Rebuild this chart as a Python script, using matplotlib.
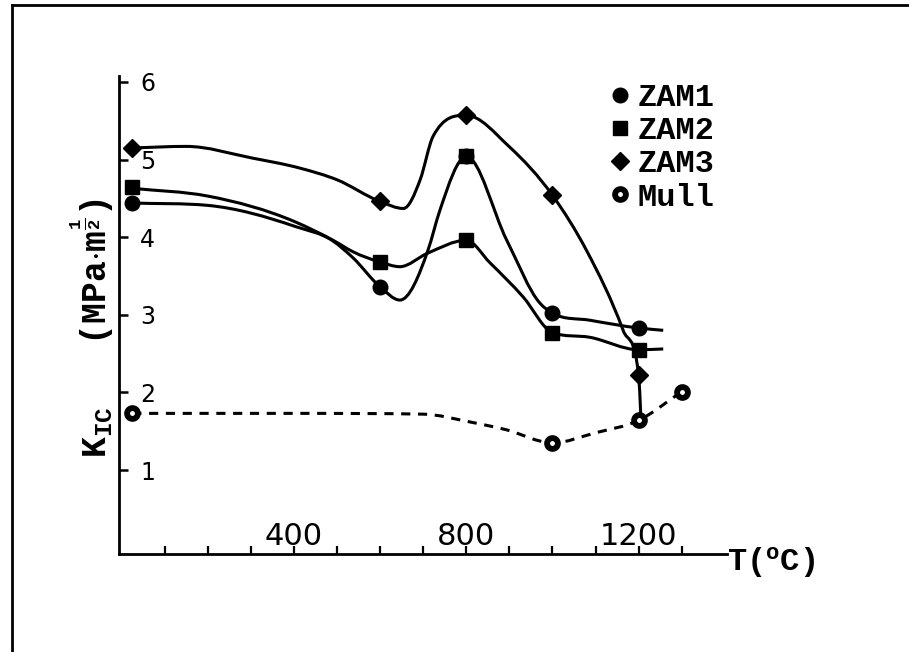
import numpy as np
import matplotlib
matplotlib.use("Agg")
import matplotlib.pyplot as plt
from matplotlib.path import Path
from matplotlib.patches import PathPatch
from matplotlib.lines import Line2D

plt.rcParams['mathtext.fontset'] = 'custom'
plt.rcParams['mathtext.rm'] = 'Liberation Mono:bold'
plt.rcParams['mathtext.it'] = 'Liberation Mono:bold'
plt.rcParams['mathtext.bf'] = 'Liberation Mono:bold'

# ---- measured points (T in °C, KIC in MPa·m^1/2) ----
series_names = ["ZAM1", "ZAM2", "ZAM3", "Mull"]
zam1_T = [25, 600, 800, 1000, 1200]
zam1_K = [4.44, 3.36, 5.04, 3.02, 2.83]
zam2_T = [25, 600, 800, 1000, 1200]
zam2_K = [4.65, 3.68, 5.04, 2.77, 2.55]
zam2b_T = [800]          # second square at 800 °C on lower branch
zam2b_K = [3.96]
zam3_T = [25, 600, 800, 1000, 1200]
zam3_K = [5.15, 4.46, 5.57, 4.54, 2.22]
mull_T = [25, 1000, 1200, 1300]
mull_K = [1.73, 1.35, 1.64, 2.01]

# ---- hand-drawn guide curves ----
zam1_line_T = [25, 200, 402, 491, 538, 600, 646, 711, 739, 800, 894, 971, 1000, 1087, 1200, 1257]
zam1_line_K = [4.44, 4.41, 4.14, 3.95, 3.73, 3.36, 3.19, 3.83, 4.35, 5.04, 3.96, 3.15, 3.02, 2.93, 2.83, 2.80]
zam2_line_T = [25, 200, 402, 491, 538, 600, 646, 709, 800, 855, 932, 1000, 1087, 1200, 1257]
zam2_line_K = [4.63, 4.53, 4.20, 3.96, 3.81, 3.68, 3.62, 3.79, 3.96, 3.67, 3.23, 2.77, 2.71, 2.55, 2.56]
zam3_line_T = [25, 150, 303, 414, 500, 600, 654, 693, 723, 800, 899, 1000, 1079, 1164, 1200, 1205]
zam3_line_K = [5.15, 5.17, 5.02, 4.89, 4.74, 4.46, 4.37, 4.74, 5.30, 5.57, 5.17, 4.54, 3.83, 2.80, 2.22, 1.70]
mull_line_T = [25, 400, 700, 808, 892, 1000, 1100, 1200, 1300]
mull_line_K = [1.73, 1.73, 1.72, 1.62, 1.52, 1.35, 1.48, 1.64, 2.01]

x_ticks = list(range(100, 1400, 100))
x_labels = {400: "400", 800: "800", 1200: "1200"}
y_ticks = [1, 2, 3, 4, 5, 6]


def smooth_path(xs, ys):
    """Smooth Bezier path through the knots (Fritsch-Carlson limited slopes)."""
    xs = np.asarray(xs, float)
    ys = np.asarray(ys, float)
    h = np.diff(xs)
    d = np.diff(ys) / h
    n = len(xs)
    m = np.zeros(n)
    for k in range(1, n - 1):
        if d[k - 1] * d[k] > 0:
            s = (d[k - 1] * h[k] + d[k] * h[k - 1]) / (h[k - 1] + h[k])
            lim = 3 * min(abs(d[k - 1]), abs(d[k]))
            m[k] = np.sign(s) * min(abs(s), lim)
    m[0] = d[0]
    m[-1] = d[-1]
    verts = [(xs[0], ys[0])]
    codes = [Path.MOVETO]
    for k in range(n - 1):
        verts += [(xs[k] + h[k] / 3, ys[k] + m[k] * h[k] / 3),
                  (xs[k + 1] - h[k] / 3, ys[k + 1] - m[k + 1] * h[k] / 3),
                  (xs[k + 1], ys[k + 1])]
        codes += [Path.CURVE4] * 3
    return Path(verts, codes)


W, H = 909, 652
fig = plt.figure(figsize=(W / 100, H / 100), dpi=100)
ax_l, ax_r, ax_b, ax_t = 119, 727, 554, 76
ax = fig.add_axes([ax_l / W, 1 - ax_b / H, (ax_r - ax_l) / W, (ax_b - ax_t) / H])
ax.set_xlim(-5.8, 1405)
ax.set_ylim(-0.082, 6.077)

for s in ["top", "right"]:
    ax.spines[s].set_visible(False)
for s in ["left", "bottom"]:
    ax.spines[s].set_linewidth(2.0)

lw = 2.2
for xs, ys, ls in [(zam1_line_T, zam1_line_K, '-'), (zam2_line_T, zam2_line_K, '-'),
                   (zam3_line_T, zam3_line_K, '-'), (mull_line_T, mull_line_K, (0, (3, 2.5)))]:
    ax.add_patch(PathPatch(smooth_path(xs, ys), facecolor='none', edgecolor='black',
                           lw=lw, linestyle=ls, capstyle='butt', zorder=2))

ax.plot(zam1_T, zam1_K, 'o', color='black', ms=10.5, zorder=4, clip_on=False)
ax.plot(zam2_T, zam2_K, 's', color='black', ms=9.5, zorder=4, clip_on=False)
ax.plot(zam2b_T, zam2b_K, 's', color='black', ms=9.5, zorder=4, clip_on=False)
ax.plot(zam3_T, zam3_K, 'D', color='black', ms=9, zorder=4, clip_on=False)
ax.plot(mull_T, mull_K, 'o', mfc='white', mec='black', mew=4.2, ms=7.8, zorder=4, clip_on=False)

ax.set_xticks(x_ticks)
ax.set_xticklabels([x_labels.get(t, "") for t in x_ticks])
ax.tick_params(axis='x', direction='in', length=5.5, width=1.6, pad=-23,
               labelsize=22, labelfontfamily='DejaVu Sans')
ax.set_yticks(y_ticks)
ax.set_yticklabels([str(t) for t in y_ticks])
ax.tick_params(axis='y', direction='in', length=6.5, width=1.8, pad=-26,
               labelsize=17, labelfontfamily='DejaVu Sans')

ax.set_ylabel(r"K$_{\mathrm{IC}}$   (MPa$\cdot$m$^{\frac{1}{2}}$)", fontsize=25,
              family='Liberation Mono', weight='bold')
ax.yaxis.label.set_verticalalignment('center')
ax.yaxis.set_label_coords((92 - ax_l) / (ax_r - ax_l), (ax_b - 328) / (ax_b - ax_t))

ax.set_xlabel(r"T($^{\mathrm{o}}$C)", fontsize=23, family='Liberation Mono', weight='bold')
ax.xaxis.label.set_horizontalalignment('left')
ax.xaxis.label.set_verticalalignment('center')
ax.xaxis.set_label_coords(1.0, (ax_b - 562) / (ax_b - ax_t))

handles = [Line2D([], [], ls='none', marker='o', color='black', ms=10.5),
           Line2D([], [], ls='none', marker='s', color='black', ms=9.5),
           Line2D([], [], ls='none', marker='D', color='black', ms=9),
           Line2D([], [], ls='none', marker='o', mfc='white', mec='black', mew=4.2, ms=7.8)]
leg = ax.legend(handles, series_names, loc='upper left', bbox_to_anchor=(604 / W, 1 - 83 / H),
                bbox_transform=fig.transFigure, frameon=False, handlelength=1.0,
                handletextpad=0.06, labelspacing=0.1, borderpad=0, borderaxespad=0,
                prop={'family': 'Liberation Mono', 'weight': 'bold', 'size': 23})

# page border (top and left edges of the scanned frame)
fig.add_artist(Line2D([12 / W, 12 / W], [0, 1 - 5 / H], color='black', lw=2.0, transform=fig.transFigure))
fig.add_artist(Line2D([12 / W, 1], [1 - 5 / H, 1 - 5 / H], color='black', lw=2.0, transform=fig.transFigure))

fig.savefig("out.png", dpi=100)
